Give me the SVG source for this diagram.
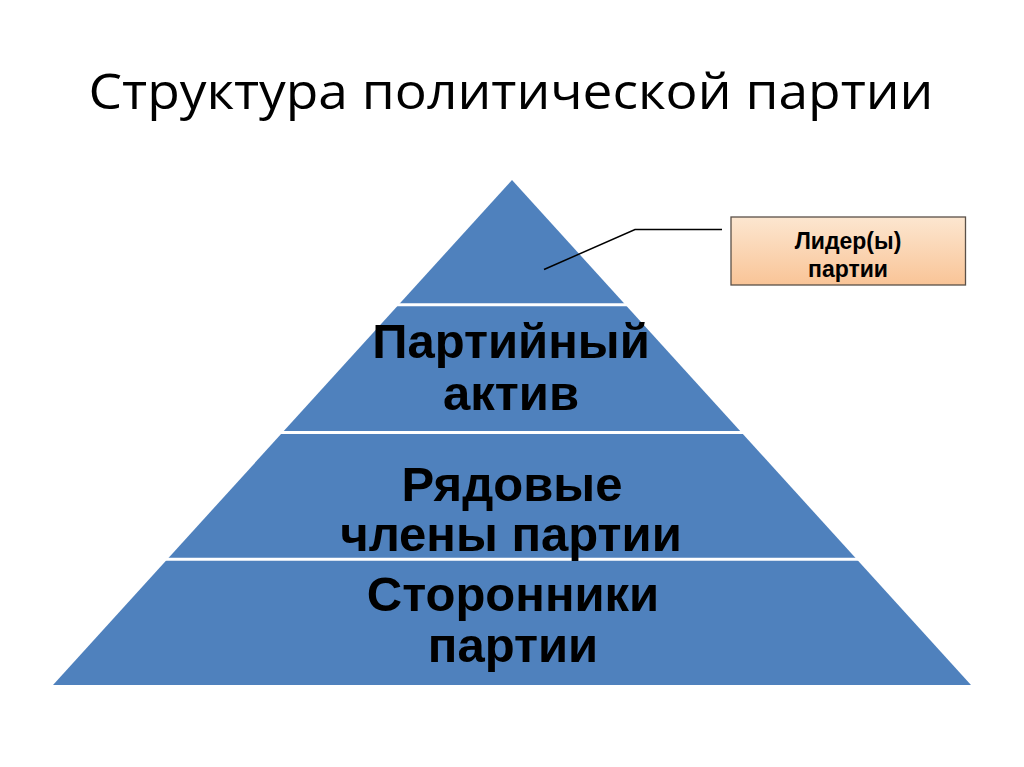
<svg xmlns="http://www.w3.org/2000/svg" width="1024" height="767" viewBox="0 0 1024 767">
  <defs>
    <linearGradient id="peach" x1="0" y1="0" x2="0" y2="1">
      <stop offset="0" stop-color="#FCE6D0"/>
      <stop offset="1" stop-color="#F9C497"/>
    </linearGradient>
    <style>
      .title { font-family: "Open Sans", "Liberation Sans", sans-serif; font-size: 49px; fill: #000; text-anchor: middle; }
      .band { font-family: "Liberation Sans", Arial, sans-serif; font-weight: bold; font-size: 49px; fill: #000; text-anchor: middle; }
      .label { font-family: "Liberation Sans", Arial, sans-serif; font-weight: bold; font-size: 23px; fill: #000; text-anchor: middle; }
      .sep { stroke: #ffffff; stroke-width: 3; }
      .leader { stroke: #000; stroke-width: 1.5; fill: none; }
    </style>
  </defs>
  <rect width="1024" height="767" fill="#ffffff"/>
  <text class="title" x="511" y="109" textLength="845" lengthAdjust="spacingAndGlyphs">Структура политической партии</text>

  <g id="pyramid">
    <polygon points="512,180 53,685 971,685" fill="#4F81BD"/>
    <line class="sep" x1="380" y1="304.7" x2="644" y2="304.7"/>
    <line class="sep" x1="260" y1="432.4" x2="764" y2="432.4"/>
    <line class="sep" x1="140" y1="559.2" x2="884" y2="559.2"/>
  </g>

  <g id="level-active">
    <text class="band" x="511" y="358">Партийный</text>
    <text class="band" x="511" y="410">актив</text>
  </g>
  <g id="level-members">
    <text class="band" x="512" y="501">Рядовые</text>
    <text class="band" x="511" y="551">члены партии</text>
  </g>
  <g id="level-supporters">
    <text class="band" x="513" y="611">Сторонники</text>
    <text class="band" x="513" y="662">партии</text>
  </g>

  <g id="connectors">
    <polyline class="leader" points="544,269.5 635,229.5 722,229.5"/>
  </g>

  <g id="leader-box">
    <rect x="731" y="217" width="234.5" height="68" fill="url(#peach)" stroke="#5a5048" stroke-width="1.3"/>
    <text class="label" x="848" y="249">Лидер(ы)</text>
    <text class="label" x="848" y="277">партии</text>
  </g>
</svg>
